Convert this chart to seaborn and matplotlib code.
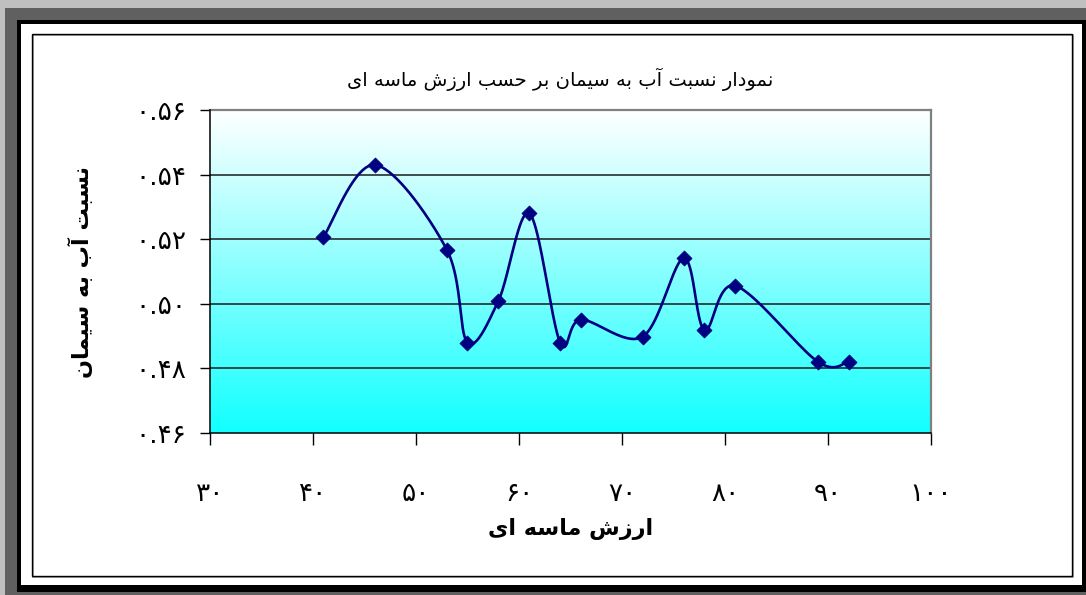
import numpy as np
import pandas as pd
import matplotlib
matplotlib.use("Agg")
import matplotlib.pyplot as plt
import seaborn as sns
from matplotlib.patches import Rectangle
from matplotlib.colors import LinearSegmentedColormap

# ---------------- data ----------------
sand_value = [41, 46, 53, 55, 58, 61, 64, 66, 72, 76, 78, 81, 89, 92]
wc_ratio = [0.5206, 0.5430, 0.5167, 0.4880, 0.5009, 0.5280, 0.4880,
            0.4951, 0.4898, 0.5141, 0.4919, 0.5056, 0.4821, 0.4821]
x_ticks = [30, 40, 50, 60, 70, 80, 90, 100]
x_tick_labels = ["۳۰", "۴۰", "۵۰", "۶۰", "۷۰", "۸۰", "۹۰", "۱۰۰"]
y_ticks = [0.46, 0.48, 0.50, 0.52, 0.54, 0.56]
y_tick_labels = ["۰.۴۶", "۰.۴۸", "۰.۵۰", "۰.۵۲", "۰.۵۴", "۰.۵۶"]
title_text = "نمودار نسبت آب به سیمان بر حسب ارزش ماسه ای"
x_label = "ارزش ماسه ای"
y_label = "نسبت آب به سیمان"

# ------------- simple Arabic/Persian shaping (matplotlib has no RTL shaping) -------------
FORMS = {
    "\u0622": ("\uFE81", "\uFE82", None, None),
    "\u0627": ("\uFE8D", "\uFE8E", None, None),
    "\u0628": ("\uFE8F", "\uFE90", "\uFE91", "\uFE92"),
    "\u062A": ("\uFE95", "\uFE96", "\uFE97", "\uFE98"),
    "\u062D": ("\uFEA1", "\uFEA2", "\uFEA3", "\uFEA4"),
    "\u062F": ("\uFEA9", "\uFEAA", None, None),
    "\u0631": ("\uFEAD", "\uFEAE", None, None),
    "\u0632": ("\uFEAF", "\uFEB0", None, None),
    "\u0633": ("\uFEB1", "\uFEB2", "\uFEB3", "\uFEB4"),
    "\u0634": ("\uFEB5", "\uFEB6", "\uFEB7", "\uFEB8"),
    "\u0645": ("\uFEE1", "\uFEE2", "\uFEE3", "\uFEE4"),
    "\u0646": ("\uFEE5", "\uFEE6", "\uFEE7", "\uFEE8"),
    "\u0647": ("\uFEE9", "\uFEEA", "\uFEEB", "\uFEEC"),
    "\u0648": ("\uFEED", "\uFEEE", None, None),
    "\u06CC": ("\uFBFC", "\uFBFD", "\uFBFE", "\uFBFF"),
    "\u064A": ("\uFEF1", "\uFEF2", "\uFEF3", "\uFEF4"),
}


def rtl(s):
    out = []
    for i, ch in enumerate(s):
        f = FORMS.get(ch)
        if f is None:
            out.append(ch)
            continue
        prev = s[i - 1] if i > 0 else None
        nxt = s[i + 1] if i + 1 < len(s) else None
        jp = prev in FORMS and FORMS[prev][2] is not None
        jn = f[2] is not None and nxt in FORMS
        if jp and jn:
            out.append(f[3])
        elif jp:
            out.append(f[1])
        elif jn:
            out.append(f[2])
        else:
            out.append(f[0])
    return "".join(reversed(out))


# ------------- Excel-like smoothed line (Bezier through points, in screen space) -------------
XMIN, XMAX, YMIN, YMAX = 30, 100, 0.46, 0.56
PW, PH = 721.0, 323.0


def smooth_curve(xs, ys, n=40):
    xs = np.asarray(xs, float)
    ys = np.asarray(ys, float)
    P = np.column_stack([(xs - XMIN) / (XMAX - XMIN) * PW, (ys - YMIN) / (YMAX - YMIN) * PH])
    segs = []
    t = np.linspace(0, 1, n)[:, None]
    for i in range(len(P) - 1):
        p0 = P[max(i - 1, 0)]
        p1 = P[i]
        p2 = P[i + 1]
        p3 = P[min(i + 2, len(P) - 1)]
        c1 = p1 + (p2 - p0) / 6.0
        c2 = p2 - (p3 - p1) / 6.0
        seg = (1 - t) ** 3 * p1 + 3 * (1 - t) ** 2 * t * c1 + 3 * (1 - t) * t ** 2 * c2 + t ** 3 * p2
        segs.append(seg if i == 0 else seg[1:])
    C = np.vstack(segs)
    return (C[:, 0] / PW * (XMAX - XMIN) + XMIN, C[:, 1] / PH * (YMAX - YMIN) + YMIN)


df = pd.DataFrame({"sand": sand_value, "wc": wc_ratio})
sx, sy = smooth_curve(sand_value, wc_ratio)
smooth_df = pd.DataFrame({"sand": sx, "wc": sy})

# ---------------- figure ----------------
sns.set_style("white")
plt.rcParams["font.family"] = ["DejaVu Sans"]
plt.rcParams["text.color"] = "black"
plt.rcParams["axes.labelcolor"] = "black"
plt.rcParams["xtick.color"] = "black"
plt.rcParams["ytick.color"] = "black"

W, H = 1086, 595
fig = plt.figure(figsize=(W / 100, H / 100), dpi=100)
fig.patch.set_facecolor("#c0c0c0")


def frect(x0, y0, x1, y1, **kw):
    fig.patches.append(Rectangle((x0 / W, 1 - y1 / H), (x1 - x0) / W, (y1 - y0) / H,
                                 transform=fig.transFigure, figure=fig, **kw))


frect(5, 8, W + 5, H + 5, facecolor="#606060", edgecolor="none", zorder=-10)
frect(17, 20, W + 5, 592, facecolor="#000000", edgecolor="none", zorder=-9)
frect(21, 24, 1082, 585, facecolor="#ffffff", edgecolor="none", zorder=-8)
frect(33, 35, 1073, 577, facecolor="none", edgecolor="#909090", linewidth=1.2, zorder=-7)
frect(32, 34, 1072, 576, facecolor="none", edgecolor="#000000", linewidth=1.0, zorder=-6)

ax = fig.add_axes([210 / W, 1 - 433 / H, 721 / W, 323 / H])
ax.set_zorder(1)
ax.set_facecolor("none")

cmap = LinearSegmentedColormap.from_list("bg", ["#ffffff", "#12ffff"])
grad = np.linspace(0, 1, 256).reshape(-1, 1)
ax.imshow(grad, extent=[XMIN, XMAX, YMIN, YMAX], origin="upper", aspect="auto",
          cmap=cmap, zorder=0, interpolation="bilinear")

for yv in y_ticks[1:-1]:
    ax.axhline(yv, color="#1a1a1a", linewidth=1.1, zorder=1)

sns.lineplot(data=smooth_df, x="sand", y="wc", sort=False, estimator=None,
             color="#000080", linewidth=1.9, ax=ax, zorder=3)
sns.scatterplot(data=df, x="sand", y="wc", marker="D", s=58, color="#000080",
                edgecolor="#000080", linewidth=0.6, ax=ax, zorder=4)

ax.set_xlim(XMIN, XMAX)
ax.set_ylim(YMIN, YMAX)
ax.set_xticks(x_ticks)
ax.set_xticklabels(x_tick_labels, fontsize=19)
ax.set_yticks(y_ticks)
ax.set_yticklabels(y_tick_labels, fontsize=19)
ax.tick_params(axis="x", direction="out", length=8.5, width=1, color="black", pad=26, bottom=True)
ax.tick_params(axis="y", direction="out", length=7, width=1, color="black", pad=10, left=True)

for side in ["top", "right"]:
    ax.spines[side].set_color("#808080")
    ax.spines[side].set_linewidth(1.6)
for side in ["left", "bottom"]:
    ax.spines[side].set_color("#000000")
    ax.spines[side].set_linewidth(1.1)
    ax.spines[side].set_zorder(5)

ax.set_xlabel(rtl(x_label), fontsize=16, fontweight="bold")
ax.set_ylabel(rtl(y_label), fontsize=16, fontweight="bold")
ax.xaxis.set_label_coords(0.5, (433 - 518) / 323)
ax.yaxis.set_label_coords((93 - 210) / 721, 0.5)

fig.text(560 / W, 1 - 79 / H, rtl(title_text), fontsize=14, ha="center", va="center")

fig.savefig("out.png", dpi=100, facecolor=fig.get_facecolor())
